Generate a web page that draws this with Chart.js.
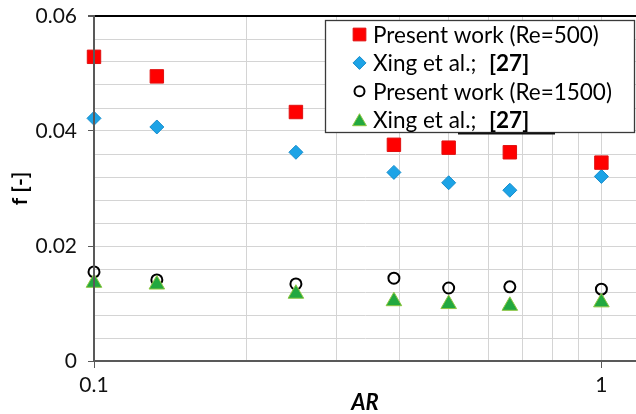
<!DOCTYPE html>
<html>
<head>
<meta charset="utf-8">
<script src="https://cdn.jsdelivr.net/npm/chart.js@4.4.1/dist/chart.umd.min.js"></script>
<style>
  html, body { margin: 0; padding: 0; background: #ffffff; }
  canvas { display: block; }
</style>
</head>
<body>
<canvas id="c" width="636" height="414"></canvas>
<script>
// Aspect ratio values shared by all series
const arValues = [0.1, 0.133, 0.25, 0.39, 0.5, 0.66, 1];

// Friction factor f [-]
const fPresentRe500  = [0.0529, 0.0495, 0.0433, 0.0376, 0.0371, 0.0363, 0.0345];
const fXingRe500     = [0.0422, 0.0407, 0.0363, 0.0328, 0.0310, 0.0297, 0.0321];
const fPresentRe1500 = [0.0155, 0.0141, 0.0134, 0.0144, 0.0127, 0.0129, 0.0125];
const fXingRe1500    = [0.0136, 0.0133, 0.0117, 0.0104, 0.0099, 0.0096, 0.0102];

// Legend texts (reference tag drawn in bold)
const legendLabels = ['Present work (Re=500)', 'Xing et al.;', 'Present work (Re=1500)', 'Xing et al.;'];
const legendRefs   = ['', '[27]', '', '[27]'];

// Axis ticks
const xGridValues = [0.1, 0.2, 0.3, 0.4, 0.5, 0.6, 0.7, 0.8, 0.9, 1];
const xTickLabels = { 0.1: '0.1', 1: '1' };
const yTickStep = 0.004;
const yTickLabels = ['0', '0.02', '0.04', '0.06'];
const yMin = 0, yMax = 0.06;

const FONT = 'Lato, "Liberation Sans", sans-serif';

function pts(ys) { return arValues.map((x, i) => ({ x: x, y: ys[i] })); }

function yLabelFor(v) {
  const k = v / 0.02;
  if (Math.abs(k - Math.round(k)) < 1e-6) return yTickLabels[Math.round(k)];
  return '';
}

// keep the plot area flush with the fixed axis sizes
function noEdgePadding(scale) {
  scale.paddingLeft = 0;
  scale.paddingRight = 0;
  scale.paddingTop = 0;
  scale.paddingBottom = 0;
}

// Boxed legend drawn inside the plot area, upper right
const boxLegend = {
  id: 'boxLegend',
  afterDraw(chart) {
    const ctx = chart.ctx;
    const bx = 325.5, by = 20.5, bw = 309, bh = 112;
    ctx.save();
    ctx.fillStyle = '#ffffff';
    ctx.fillRect(bx, by, bw, bh);
    ctx.strokeStyle = '#3a3a3a';
    ctx.lineWidth = 1.3;
    ctx.strokeRect(bx, by, bw, bh);
    // short rule beneath the box
    ctx.strokeStyle = '#111111';
    ctx.lineWidth = 2;
    ctx.beginPath();
    ctx.moveTo(458, 133.5);
    ctx.lineTo(555, 133.5);
    ctx.stroke();

    const rowY0 = 34.5, rowStep = 28.4;
    chart.data.datasets.forEach((ds, i) => {
      const y = rowY0 + i * rowStep;
      ctx.save();
      ctx.fillStyle = ds.backgroundColor;
      ctx.strokeStyle = ds.borderColor;
      ctx.lineWidth = ds.borderWidth;
      Chart.helpers.drawPoint(ctx, {
        pointStyle: ds.pointStyle,
        radius: ds.legendRadius,
        borderWidth: ds.borderWidth,
        rotation: 0
      }, 359.5, y + (ds.pointStyle === 'triangle' ? 2 : 0));
      ctx.restore();

      ctx.fillStyle = '#000000';
      ctx.textBaseline = 'middle';
      ctx.textAlign = 'left';
      ctx.font = '22.5px ' + FONT;
      ctx.fillText(legendLabels[i], 373, y + 1);
      if (legendRefs[i]) {
        ctx.font = 'bold 22.5px ' + FONT;
        ctx.fillText(legendRefs[i], 489, y + 1);
      }
    });
    ctx.restore();
  }
};

// value axis line stays above the markers that sit on it
const leftAxisOnTop = {
  id: 'leftAxisOnTop',
  afterDatasetsDraw(chart) {
    const a = chart.chartArea, ctx = chart.ctx;
    ctx.save();
    ctx.strokeStyle = '#595959';
    ctx.lineWidth = 2;
    ctx.beginPath();
    ctx.moveTo(a.left, a.top);
    ctx.lineTo(a.left, a.bottom + 1);
    ctx.stroke();
    ctx.restore();
  }
};

new Chart(document.getElementById('c'), {
  type: 'scatter',
  data: {
    datasets: [
      {
        label: legendLabels[0],
        data: pts(fPresentRe500),
        pointStyle: 'rect',
        pointRadius: 9.5,
        legendRadius: 9,
        backgroundColor: '#ff0000',
        borderColor: '#e01010',
        borderWidth: 1,
        clip: false,
        order: 0
      },
      {
        label: legendLabels[1],
        data: pts(fXingRe500),
        pointStyle: 'rectRot',
        pointRadius: 7,
        legendRadius: 6.5,
        backgroundColor: '#1ca3e6',
        borderColor: '#168ccc',
        borderWidth: 1,
        clip: false,
        order: 1
      },
      {
        label: legendLabels[2],
        data: pts(fPresentRe1500),
        pointStyle: 'circle',
        pointRadius: 5.5,
        legendRadius: 5,
        backgroundColor: 'rgba(0,0,0,0)',
        borderColor: '#000000',
        borderWidth: 2,
        clip: false,
        order: 3
      },
      {
        label: legendLabels[3],
        data: pts(fXingRe1500),
        pointStyle: 'triangle',
        pointRadius: 9,
        legendRadius: 8,
        backgroundColor: '#22a83f',
        borderColor: '#8dc641',
        borderWidth: 1,
        clip: false,
        order: 2
      }
    ]
  },
  options: {
    responsive: false,
    animation: false,
    devicePixelRatio: 1,
    layout: { autoPadding: false, padding: { top: 16, left: 0, right: 0, bottom: 0 } },
    plugins: {
      legend: { display: false },
      tooltip: { enabled: false }
    },
    scales: {
      x: {
        type: 'logarithmic',
        min: 0.1,
        max: 1.17,
        afterBuildTicks(scale) {
          scale.ticks = xGridValues.map(v => ({ value: v }));
        },
        afterFit(scale) { scale.height = 53; noEdgePadding(scale); },
        ticks: {
          autoSkip: false,
          maxRotation: 0,
          padding: 5,
          color: '#111111',
          font: { family: FONT, size: 21 },
          callback(v) { return xTickLabels[v] !== undefined ? xTickLabels[v] : ''; }
        },
        grid: {
          color: '#d4d4d4',
          lineWidth: 1,
          tickLength: 7,
          tickColor(ctx) {
            return ctx.tick && xTickLabels[ctx.tick.value] !== undefined ? '#595959' : 'rgba(0,0,0,0)';
          }
        },
        border: { display: true, color: '#595959', width: 2 },
        title: {
          display: true,
          text: 'AR',
          color: '#000000',
          padding: { top: 0, bottom: 0 },
          font: { family: FONT, size: 22, weight: 'bold', style: 'italic', lineHeight: 1 }
        }
      },
      y: {
        min: yMin,
        max: yMax,
        afterFit(scale) { scale.width = 94; noEdgePadding(scale); },
        ticks: {
          stepSize: yTickStep,
          maxTicksLimit: 100,
          autoSkip: false,
          padding: 11,
          color: '#111111',
          font: { family: FONT, size: 21 },
          callback(v) { return yLabelFor(v); }
        },
        grid: {
          color(ctx) {
            return ctx.tick && Math.abs(ctx.tick.value - yMax) < 1e-9 ? '#000000' : '#d4d4d4';
          },
          lineWidth(ctx) {
            return ctx.tick && Math.abs(ctx.tick.value - yMax) < 1e-9 ? 2 : 1;
          },
          tickLength: 6,
          tickColor(ctx) {
            return ctx.tick && yLabelFor(ctx.tick.value) !== '' ? '#595959' : 'rgba(0,0,0,0)';
          }
        },
        border: { display: true, color: '#595959', width: 2 },
        title: {
          display: true,
          text: 'f [-]',
          color: '#000000',
          padding: { top: 8, bottom: 0 },
          font: { family: FONT, size: 21, weight: 'bold', lineHeight: 1.2 }
        }
      }
    }
  },
  plugins: [boxLegend, leftAxisOnTop]
});
</script>
</body>
</html>
